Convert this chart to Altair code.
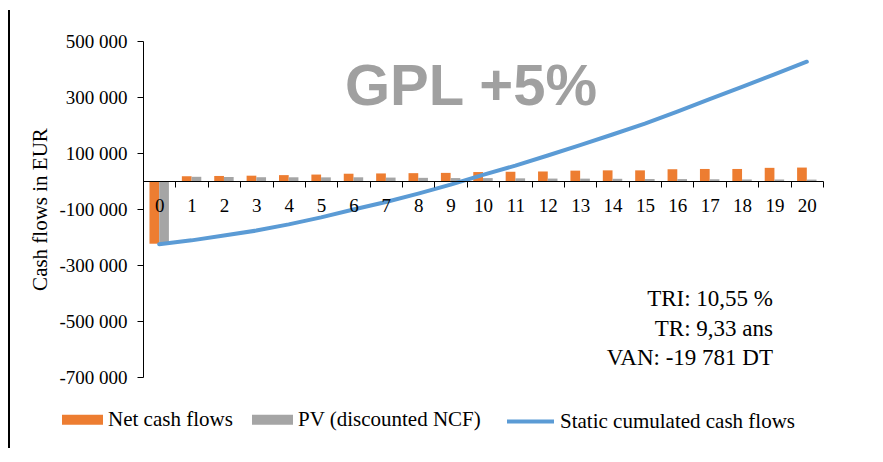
import altair as alt
import pandas as pd

# ---------------- data ----------------
years = list(range(21))
net_cash_flows = [-224000, 17000, 18000, 19000, 21000, 23000, 26000, 27000, 28000, 29000,
                  32000, 33000, 34000, 37000, 38000, 38000, 42000, 43000, 43000, 47000, 48000]
pv_discounted = [-224000, 15000, 14300, 13500, 13300, 13000, 13200, 12200, 11300, 10500,
                 10300, 9500, 8700, 8500, 7900, 7000, 6800, 6200, 5500, 5400, 5000]
static_cumulated = [-226000, -212000, -195000, -177000, -155000, -130000, -102000, -75000,
                    -45000, -13000, 22000, 55000, 91000, 128000, 166000, 205000, 248000,
                    292000, 336000, 381000, 426000]
bar_series = ["Net cash flows", "PV (discounted NCF)"]
line_series = "Static cumulated cash flows"
y_ticks = [-700000, -500000, -300000, -100000, 100000, 300000, 500000]
y_domain = [-700000, 500000]
title_text = "GPL +5%"
annotation_lines = ["TRI: 10,55 %", "TR: 9,33 ans", "VAN: -19 781 DT"]
y_title = "Cash flows in EUR"

# ---------------- styling ----------------
ORANGE = "#ED7D31"
GRAY = "#A5A5A5"
BLUE = "#5B9BD5"
SERIF = "Liberation Serif"
W, H = 680, 336

bars_df = pd.DataFrame(
    [{"year": y, "series": bar_series[0], "value": v} for y, v in zip(years, net_cash_flows)]
    + [{"year": y, "series": bar_series[1], "value": v} for y, v in zip(years, pv_discounted)]
)
line_df = pd.DataFrame({"year": years, "value": static_cumulated, "series": line_series})

zero_offset = -(H - H * (y_domain[1] - 0) / (y_domain[1] - y_domain[0]))

x_enc = alt.X(
    "year:O",
    scale=alt.Scale(domain=years, paddingInner=0, paddingOuter=0),
    axis=alt.Axis(
        title=None, labelAngle=0, tickBand="extent", offset=zero_offset,
        domainColor="black", tickColor="black", tickSize=6, labelPadding=9,
        labelFont=SERIF, labelFontSize=19, labelColor="black", grid=False, zindex=1,
    ),
)
y_axis = alt.Axis(
    title=y_title, values=y_ticks, grid=False,
    labelExpr="(datum.value < 0 ? '-' : '') + replace(format(abs(datum.value), ','), ',', ' ')",
    domainColor="black", tickColor="black", tickSize=6, labelPadding=10,
    labelFont=SERIF, labelFontSize=19, labelColor="black",
    titleFont=SERIF, titleFontSize=21, titleFontWeight="normal", titleColor="black",
    titlePadding=8,
)
y_scale = alt.Scale(domain=y_domain, nice=False, zero=False)

bars = alt.Chart(bars_df).mark_bar().encode(
    x=x_enc,
    xOffset=alt.XOffset("series:N", scale=alt.Scale(domain=bar_series, paddingInner=0, paddingOuter=0.666)),
    y=alt.Y("value:Q", scale=y_scale, axis=y_axis),
    fill=alt.Fill(
        "series:N",
        scale=alt.Scale(domain=bar_series, range=[ORANGE, GRAY]),
        legend=alt.Legend(
            title=None, orient="none", legendX=-81, legendY=358, direction="horizontal",
            symbolType="M-1,-0.244H1V0.244H-1Z", symbolSize=1681, symbolStrokeWidth=0,
            labelFont=SERIF, labelFontSize=21, labelColor="black", labelOffset=5,
            columnPadding=19, labelLimit=400, padding=0,
        ),
    ),
)

line = alt.Chart(line_df).mark_line(strokeWidth=4, strokeCap="round", strokeJoin="round").encode(
    x=x_enc,
    y=alt.Y("value:Q", scale=y_scale, axis=y_axis),
    stroke=alt.Stroke(
        "series:N",
        scale=alt.Scale(domain=[line_series], range=[BLUE]),
        legend=alt.Legend(
            title=None, orient="none", legendX=362, legendY=355, direction="horizontal",
            symbolType="stroke", symbolSize=2209, symbolStrokeWidth=4,
            labelFont=SERIF, labelFontSize=21, labelColor="black", labelOffset=4,
            labelLimit=400, padding=0,
        ),
    ),
)

title = alt.Chart(pd.DataFrame({"t": [title_text]})).mark_text(
    font="Liberation Sans", fontSize=58, fontWeight="bold", color="#A0A0A0",
    align="center", baseline="alphabetic",
).encode(text="t:N", x=alt.value(328), y=alt.value(64))

annot = alt.Chart(pd.DataFrame({"t": ["\n".join(annotation_lines)]})).mark_text(
    font=SERIF, fontSize=23, color="black", align="right", baseline="alphabetic",
    lineBreak="\n", lineHeight=29.5,
).encode(text="t:N", x=alt.value(630), y=alt.value(265))

border = alt.Chart(pd.DataFrame({"k": [0]})).mark_rule(color="black", strokeWidth=2).encode(
    x=alt.value(-134), y=alt.value(-31), y2=alt.value(407)
)

chart = alt.layer(border, bars, line, title, annot).properties(
    width=W, height=H,
    padding={"left": 135, "top": 33, "right": 52, "bottom": 71},
    autosize=alt.AutoSizeParams(type="none"),
).configure_view(stroke=None).resolve_scale(color="independent")

chart.save("out.html", embed_options={"renderer": "svg", "actions": False})
